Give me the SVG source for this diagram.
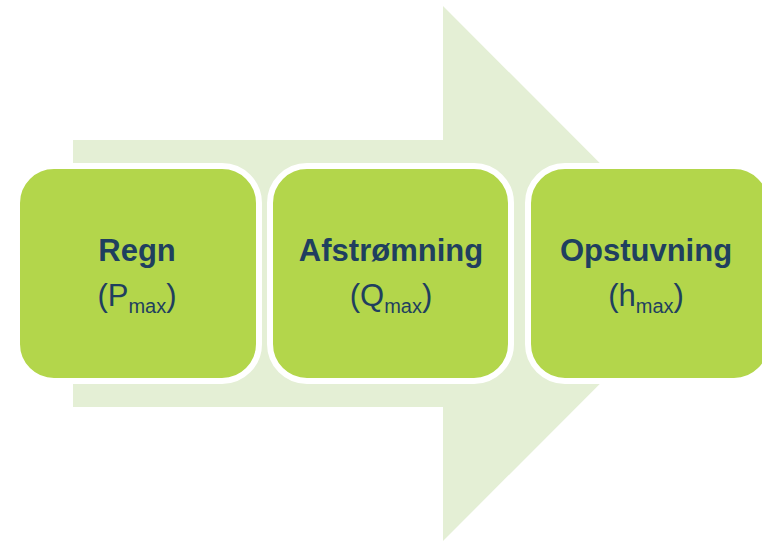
<svg xmlns="http://www.w3.org/2000/svg" width="762" height="542" viewBox="0 0 762 542">
<style>
.box{fill:#b3d64b;stroke:#ffffff;stroke-width:6}
.t{font-family:"Liberation Sans",Arial,sans-serif;fill:#1f3f5f;text-anchor:middle}
.b{font-size:31px;font-weight:bold}
.r{font-size:31px}
.s{font-size:20px}
</style>
<rect width="762" height="542" fill="#ffffff"/>
<g id="arrow">
<polygon points="73,140 443,140 443,6 710,273.5 443,541 443,407 73,407" fill="#e4efd5"/>
</g>
<g id="connectors"></g>
<g id="node-regn">
<rect class="box" x="17" y="166" width="242" height="215" rx="37"/>
<text class="t b" x="137" y="261">Regn</text>
<text class="t r" x="137" y="306">(P<tspan class="s" dy="7">max</tspan><tspan dy="-7">)</tspan></text>
</g>
<g id="node-afstromning">
<rect class="box" x="270" y="166" width="241" height="215" rx="37"/>
<text class="t b" x="391" y="261">Afstrømning</text>
<text class="t r" x="391" y="306">(Q<tspan class="s" dy="7">max</tspan><tspan dy="-7">)</tspan></text>
</g>
<g id="node-opstuvning">
<rect class="box" x="528" y="166" width="243" height="215" rx="37"/>
<text class="t b" x="646" y="261">Opstuvning</text>
<text class="t r" x="646" y="306">(h<tspan class="s" dy="7">max</tspan><tspan dy="-7">)</tspan></text>
</g>
</svg>
